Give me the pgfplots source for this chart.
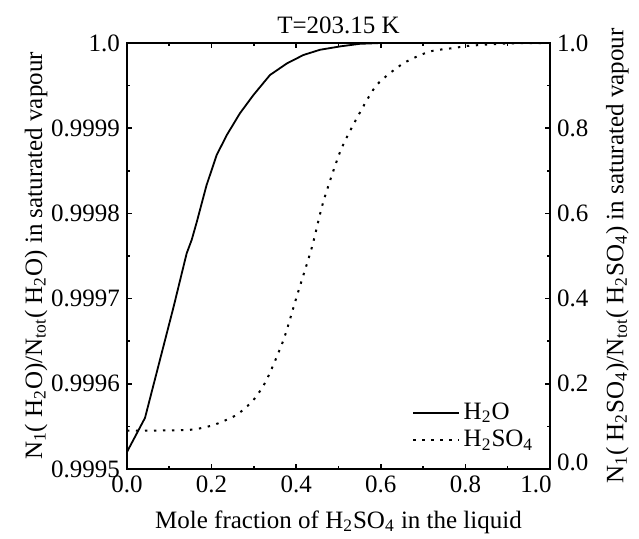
\documentclass[border=0pt]{standalone}
\usepackage{fontspec}
\setmainfont{Liberation Serif}
\usepackage{pgfplots}
\pgfplotsset{compat=1.18}

\pgfplotsset{
  base/.style={
    scale only axis, width=211.5pt, height=213pt,
    at={(0,0)}, anchor=south west,
    xmin=0, xmax=1,
    axis line style={line width=1pt},
    tick style={black, line width=0.8pt},
    major tick length=2.5pt, minor tick length=1.5pt,
    tick align=inside,
    tick label style={font=\rmfamily\fontsize{12.5}{14}\selectfont},
    label style={font=\rmfamily\fontsize{12.5}{14}\selectfont},
    /pgf/number format/assume math mode=true,
  },
}

\begin{document}
\begin{tikzpicture}
\path[use as bounding box] (-63.5pt,-35pt) rectangle (256pt,234.5pt);
\begin{axis}[base,
  ymin=0.9995, ymax=1.0,
  xtick={0,0.2,0.4,0.6,0.8,1.0},
  xticklabels={0.0,0.2,0.4,0.6,0.8,\makebox[0pt][c]{\hspace{-14pt}1.0}},
  minor x tick num=1,
  xtick pos=both,
  ytick={0.9995,0.9996,0.9997,0.9998,0.9999,1.0},
  yticklabels={0.9995,0.9996,0.9997,0.9998,0.9999,1.0},
  minor y tick num=1,
  ytick pos=left,
  scaled y ticks=false,
  title={T=203.15 K},
  title style={font=\rmfamily\fontsize{12.5}{14}\selectfont, yshift=-5pt},
  xlabel={Mole fraction of H\textsubscript{2}SO\textsubscript{4} in the liquid},
  xlabel style={yshift=-2pt},
  ylabel={N\textsubscript{1}( H\textsubscript{2}O)/N\textsubscript{tot}( H\textsubscript{2}O) in saturated vapour},
  ylabel style={yshift=-5pt},
]
\addplot[black, line width=0.9pt] coordinates {
(0,0.99952)(0.0426,0.99956)(0.110,0.99969)(0.141,0.999753)(0.153,0.999769)
(0.165,0.99979)(0.188,0.999833)(0.212,0.9998685)(0.236,0.999892)(0.267,0.9999175)
(0.299,0.999939)(0.338,0.9999624)(0.378,0.999976)(0.417,0.9999859)(0.456,0.999992)
(0.504,0.999996)(0.55,0.999999)(0.6,1.0)(1.0,1.0)};
\end{axis}
\begin{axis}[base,
  ymin=0, ymax=1,
  axis y line*=right,
  axis x line=none,
  ytick={0,0.2,0.4,0.6,0.8,1.0},
  yticklabels={\raisebox{7pt}{0.0},0.2,0.4,0.6,0.8,1.0},
  minor y tick num=1,
  ylabel={N\textsubscript{1}( H\textsubscript{2}SO\textsubscript{4})/N\textsubscript{tot}( H\textsubscript{2}SO\textsubscript{4}) in saturated vapour},
  ylabel style={yshift=-2pt},
  legend style={at={(0.985,0.025)}, anchor=south east, draw=none, fill=none,
    font=\rmfamily\fontsize{12.5}{14}\selectfont, row sep=0pt},
  legend cell align=left,
  legend image code/.code={\draw[#1] (0cm,0cm) -- (0.8cm,0cm);},
]
\addlegendimage{black, line width=0.9pt}
\addlegendentry{H\textsubscript{2}O}
\addplot[black, line width=1pt, dash pattern=on 1.2pt off 3.3pt, smooth, tension=0.4] coordinates {
(0,0.09)(0.042,0.09)(0.149,0.092)(0.204,0.103)(0.259,0.127)(0.299,0.162)
(0.330,0.209)(0.370,0.303)(0.401,0.404)(0.437,0.52)(0.464,0.627)(0.504,0.745)
(0.543,0.823)(0.590,0.901)(0.653,0.952)(0.716,0.98)(0.779,0.989)(0.803,0.993)
(0.9,0.999)(1.0,1.0)};
\addlegendentry{H\textsubscript{2}SO\textsubscript{4}}
\end{axis}
\end{tikzpicture}
\end{document}
